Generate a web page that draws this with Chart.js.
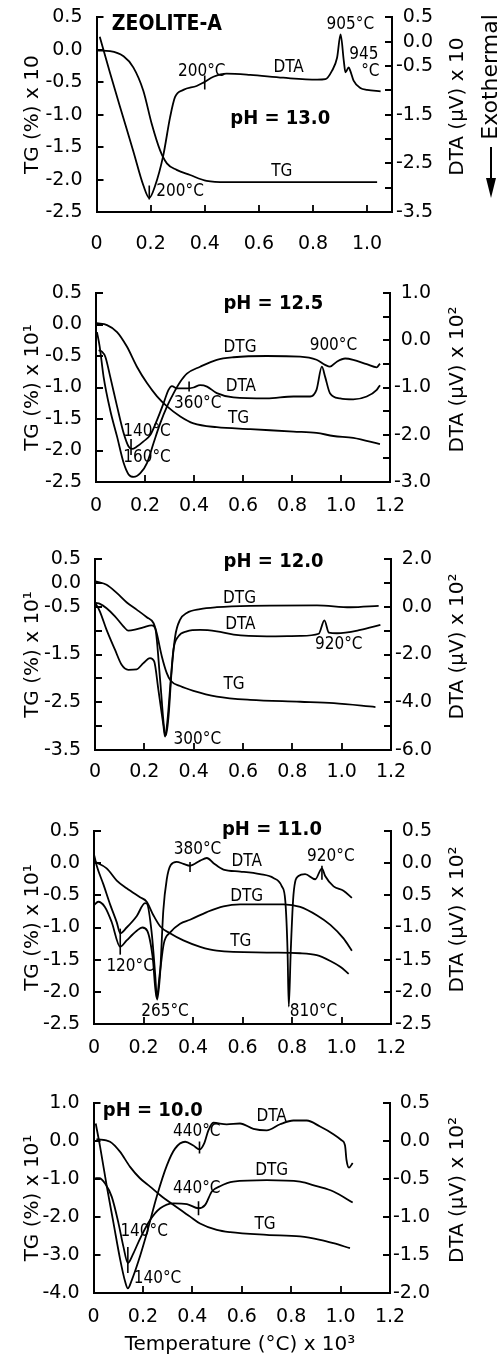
<!DOCTYPE html>
<html><head><meta charset="utf-8">
<script src="https://cdn.jsdelivr.net/npm/chart.js@4.4.1/dist/chart.umd.min.js"></script>
<style>
html,body{margin:0;padding:0;background:#fff;}
#wrap{position:relative;width:502px;height:1358px;overflow:hidden;}
canvas{position:absolute;left:0;top:0;}
</style>
</head><body>
<div id="wrap">
<canvas id="c1" width="502" height="1358" style="width:502px;height:1358px"></canvas>
<canvas id="c2" width="502" height="1358" style="width:502px;height:1358px"></canvas>
<canvas id="c3" width="502" height="1358" style="width:502px;height:1358px"></canvas>
<canvas id="c4" width="502" height="1358" style="width:502px;height:1358px"></canvas>
<canvas id="c5" width="502" height="1358" style="width:502px;height:1358px"></canvas>
</div>
<script>
// ---------- tick values / labels ----------
const xTicks12 = [0,0.2,0.4,0.6,0.8,1.0,1.2];
const xLabels12 = ['0','0.2','0.4','0.6','0.8','1.0','1.2'];
const xTicks10 = [0,0.2,0.4,0.6,0.8,1.0];
const xLabels10 = ['0','0.2','0.4','0.6','0.8','1.0'];

const p1LeftTicks = [0.5,0,-0.5,-1,-1.5,-2,-2.5];
const p1LeftLabels = ['0.5','0.0','-0.5','-1.0','-1.5','-2.0','-2.5'];
const p1RightTicks = [0.5,0,-0.5,-1,-1.5,-2,-2.5,-3,-3.5];
const p1RightLabels = ['0.5','0.0','-0.5','','-1.5','','-2.5','','-3.5'];

const p2LeftTicks = [0.5,0,-0.5,-1,-1.5,-2,-2.5];
const p2LeftLabels = ['0.5','0.0','-0.5','-1.0','-1.5','-2.0','-2.5'];
const p2RightTicks = [1,0.5,0,-0.5,-1,-1.5,-2,-2.5,-3];
const p2RightLabels = ['1.0','','0.0','','-1.0','','-2.0','','-3.0'];

const p3LeftTicks = [0.5,0,-0.5,-1,-1.5,-2,-2.5,-3,-3.5];
const p3LeftLabels = ['0.5','0.0','-0.5','','-1.5','','-2.5','','-3.5'];
const p3RightTicks = [2,1,0,-1,-2,-3,-4,-5,-6];
const p3RightLabels = ['2.0','','0.0','','-2.0','','-4.0','','-6.0'];

const p4LeftTicks = [0.5,0,-0.5,-1,-1.5,-2,-2.5];
const p4LeftLabels = ['0.5','0.0','-0.5','-1.0','-1.5','-2.0','-2.5'];
const p4RightTicks = [0.5,0,-0.5,-1,-1.5,-2,-2.5];
const p4RightLabels = ['0.5','0.0','0.5','-1.0','-1.5','-2.0','-2.5'];

const p5LeftTicks = [1,0,-1,-2,-3,-4];
const p5LeftLabels = ['1.0','0.0','-1.0','-2.0','-3.0','-4.0'];
const p5RightTicks = [0.5,0,-0.5,-1,-1.5,-2];
const p5RightLabels = ['0.5','0.0','-0.5','-1.0','-1.5','-2.0'];

// ---------- curves: [temperature x10^3, value] ----------
// pH 13.0
const p1TG = [[0.006,-0.01],[0.05,-0.02],[0.10,-0.10],[0.136,-0.27],[0.173,-0.63],[0.204,-1.14],[0.235,-1.55],[0.26,-1.75],[0.296,-1.85],[0.346,-1.93],[0.407,-2.02],[0.48,-2.04],[1.037,-2.04]];
const p1DTA = [[0.012,0.10],[0.049,-0.62],[0.086,-1.32],[0.136,-2.25],[0.173,-2.95],[0.195,-3.21],[0.216,-2.97],[0.247,-2.33],[0.272,-1.55],[0.29,-1.14],[0.321,-0.99],[0.37,-0.91],[0.395,-0.84],[0.432,-0.72],[0.481,-0.655],[0.568,-0.68],[0.69,-0.74],[0.815,-0.78],[0.846,-0.77],[0.87,-0.60],[0.889,-0.33],[0.902,0.15],[0.914,-0.40],[0.92,-0.63],[0.932,-0.53],[0.938,-0.60],[0.95,-0.80],[0.975,-0.95],[1.0,-0.99],[1.05,-1.02]];
const p1MarksR = [[0.4,-0.84],[0.195,-3.1]];

// pH 12.5
const p2TG = [[0.004,0.02],[0.045,-0.01],[0.086,-0.12],[0.126,-0.35],[0.167,-0.67],[0.208,-0.93],[0.249,-1.14],[0.29,-1.30],[0.344,-1.46],[0.398,-1.57],[0.493,-1.63],[0.63,-1.66],[0.806,-1.70],[0.90,-1.72],[0.969,-1.77],[1.05,-1.80],[1.159,-1.90]];
const p2DTG = [[0.004,-0.12],[0.015,-0.35],[0.031,-0.83],[0.058,-1.36],[0.086,-1.78],[0.113,-2.20],[0.133,-2.38],[0.154,-2.42],[0.181,-2.36],[0.208,-2.20],[0.235,-1.88],[0.262,-1.57],[0.29,-1.30],[0.317,-1.09],[0.344,-0.91],[0.371,-0.78],[0.425,-0.67],[0.493,-0.56],[0.561,-0.52],[0.697,-0.50],[0.833,-0.51],[0.90,-0.56],[0.935,-0.64],[0.955,-0.67],[0.983,-0.59],[1.017,-0.54],[1.05,-0.56],[1.105,-0.63],[1.146,-0.68],[1.159,-0.62]];
const p2DTA = [[0.011,-0.21],[0.024,-0.24],[0.038,-0.35],[0.058,-0.77],[0.086,-1.40],[0.113,-1.97],[0.133,-2.25],[0.147,-2.30],[0.167,-2.25],[0.194,-2.14],[0.222,-2.00],[0.249,-1.69],[0.276,-1.33],[0.296,-1.05],[0.31,-0.97],[0.33,-1.02],[0.371,-1.02],[0.398,-1.00],[0.425,-0.95],[0.453,-0.98],[0.493,-1.12],[0.561,-1.21],[0.697,-1.23],[0.806,-1.19],[0.874,-1.19],[0.90,-1.05],[0.922,-0.56],[0.935,-0.77],[0.955,-1.12],[0.996,-1.23],[1.05,-1.25],[1.105,-1.19],[1.146,-1.05],[1.159,-0.95]];
const p2MarksR = [[0.143,-2.26],[0.38,-0.98]];

// pH 12.0
const p3TG = [[0.004,0.03],[0.047,-0.04],[0.088,-0.21],[0.129,-0.41],[0.169,-0.56],[0.21,-0.72],[0.237,-0.84],[0.25,-1.05],[0.271,-1.54],[0.291,-1.89],[0.307,-2.05],[0.345,-2.16],[0.399,-2.26],[0.494,-2.38],[0.629,-2.45],[0.832,-2.49],[0.968,-2.52],[1.137,-2.60]];
const p3DTG = [[0.003,-0.42],[0.02,-0.44],[0.047,-0.53],[0.081,-0.70],[0.115,-0.91],[0.135,-1.0],[0.162,-0.98],[0.196,-0.93],[0.23,-0.89],[0.244,-0.95],[0.264,-2.03],[0.281,-3.08],[0.288,-3.19],[0.298,-2.80],[0.311,-1.82],[0.325,-1.12],[0.345,-0.77],[0.372,-0.63],[0.426,-0.55],[0.494,-0.51],[0.629,-0.48],[0.90,-0.47],[1.035,-0.51],[1.15,-0.48]];
const p3DTA = [[0.003,0.13],[0.02,-0.20],[0.047,-0.97],[0.081,-1.80],[0.108,-2.43],[0.135,-2.64],[0.169,-2.62],[0.196,-2.36],[0.223,-2.15],[0.24,-2.29],[0.257,-3.48],[0.277,-4.95],[0.284,-5.44],[0.294,-4.74],[0.305,-3.34],[0.318,-1.80],[0.338,-1.24],[0.372,-1.03],[0.426,-0.97],[0.494,-1.03],[0.562,-1.17],[0.697,-1.24],[0.832,-1.22],[0.907,-1.13],[0.93,-0.57],[0.948,-1.08],[0.981,-1.11],[1.076,-0.97],[1.157,-0.76]];

// pH 11.0
const p4TG = [[0.004,0.02],[0.051,-0.08],[0.092,-0.27],[0.132,-0.39],[0.186,-0.53],[0.213,-0.60],[0.24,-0.81],[0.267,-0.98],[0.307,-1.09],[0.361,-1.20],[0.429,-1.30],[0.496,-1.36],[0.698,-1.39],[0.833,-1.40],[0.90,-1.43],[0.955,-1.52],[0.995,-1.61],[1.029,-1.72]];
const p4DTG = [[0.001,-0.65],[0.017,-0.60],[0.044,-0.68],[0.071,-0.91],[0.106,-1.30],[0.132,-1.20],[0.173,-1.05],[0.195,-1.0],[0.215,-1.05],[0.237,-1.46],[0.253,-2.10],[0.266,-1.71],[0.282,-1.25],[0.307,-1.08],[0.348,-0.94],[0.388,-0.88],[0.456,-0.76],[0.523,-0.67],[0.591,-0.64],[0.766,-0.64],[0.833,-0.68],[0.90,-0.81],[0.955,-0.96],[1.008,-1.17],[1.042,-1.36]];
const p4DTA = [[0.001,0.12],[0.011,-0.04],[0.038,-0.33],[0.065,-0.64],[0.092,-0.92],[0.106,-1.09],[0.132,-1.0],[0.173,-0.82],[0.206,-0.62],[0.214,-0.63],[0.233,-1.08],[0.247,-1.72],[0.255,-2.12],[0.267,-1.72],[0.28,-0.74],[0.294,-0.25],[0.31,-0.03],[0.334,0.02],[0.361,-0.01],[0.388,-0.04],[0.429,0.04],[0.456,0.08],[0.483,0.0],[0.523,-0.10],[0.591,-0.13],[0.671,-0.17],[0.725,-0.23],[0.759,-0.36],[0.773,-0.59],[0.782,-1.36],[0.787,-2.23],[0.795,-1.36],[0.806,-0.49],[0.826,-0.20],[0.853,-0.17],[0.894,-0.25],[0.921,-0.08],[0.934,-0.20],[0.968,-0.36],[1.008,-0.43],[1.042,-0.54]];
const p4MarksL = [[0.106,-1.22]];
const p4MarksR = [[0.388,-0.06],[0.921,-0.15]];

// pH 10.0
const p5TG = [[0.012,0.05],[0.067,-0.02],[0.107,-0.28],[0.148,-0.68],[0.188,-0.98],[0.229,-1.20],[0.269,-1.42],[0.323,-1.68],[0.391,-1.99],[0.431,-2.17],[0.499,-2.34],[0.553,-2.40],[0.701,-2.47],[0.836,-2.51],[0.917,-2.60],[0.971,-2.69],[1.038,-2.82]];
const p5DTG = [[0.007,-0.98],[0.024,-0.98],[0.047,-1.12],[0.074,-1.47],[0.101,-2.16],[0.121,-2.78],[0.139,-3.21],[0.159,-2.99],[0.189,-2.56],[0.229,-2.08],[0.27,-1.77],[0.324,-1.64],[0.378,-1.66],[0.425,-1.77],[0.452,-1.68],[0.479,-1.33],[0.512,-1.19],[0.566,-1.07],[0.701,-1.03],[0.836,-1.07],[0.903,-1.19],[0.971,-1.33],[1.049,-1.62]];
const p5DTA = [[0.009,0.23],[0.027,-0.08],[0.054,-0.60],[0.081,-1.08],[0.108,-1.56],[0.128,-1.85],[0.139,-1.94],[0.155,-1.83],[0.182,-1.58],[0.216,-1.21],[0.256,-0.73],[0.297,-0.32],[0.33,-0.10],[0.371,-0.01],[0.404,-0.06],[0.429,-0.11],[0.448,-0.03],[0.465,0.14],[0.485,0.24],[0.539,0.22],[0.593,0.23],[0.647,0.16],[0.701,0.14],[0.755,0.22],[0.809,0.27],[0.863,0.27],[0.917,0.19],[0.971,0.09],[1.004,0.01],[1.018,-0.06],[1.024,-0.25],[1.034,-0.35],[1.049,-0.29]];
const p5MarksL = [[0.139,-3.13],[0.425,-1.77]];
const p5MarksR = [[0.429,-0.086]];

// ---------- annotation texts: [text, x, left-axis y, size, bold] ----------
const p1Notes = [['ZEOLITE-A',0.26,0.39,21,1],['905°C',0.938,0.39,17,0],['945',0.988,-0.07,17,0],['°C',1.012,-0.33,17,0],['200°C',0.389,-0.33,17,0],['DTA',0.71,-0.27,17,0],['pH = 13.0',0.679,-1.06,20,1],['TG',0.685,-1.88,17,0],['200°C',0.309,-2.18,17,0]];
const p2Notes = [['pH = 12.5',0.724,0.33,20,1],['DTG',0.588,-0.36,17,0],['900°C',0.969,-0.34,17,0],['DTA',0.591,-0.99,17,0],['360°C',0.415,-1.26,17,0],['TG',0.582,-1.49,17,0],['140°C',0.208,-1.70,17,0],['160°C',0.208,-2.12,17,0]];
const p3Notes = [['pH = 12.0',0.724,0.45,20,1],['DTG',0.586,-0.32,17,0],['DTA',0.589,-0.88,17,0],['920°C',0.988,-1.30,17,0],['TG',0.564,-2.14,17,0],['300°C',0.415,-3.29,17,0]];
const p4Notes = [['pH = 11.0',0.719,0.52,20,1],['380°C',0.418,0.21,17,0],['DTA',0.617,0.02,17,0],['920°C',0.957,0.11,17,0],['DTG',0.617,-0.52,17,0],['TG',0.593,-1.22,17,0],['120°C',0.146,-1.60,17,0],['265°C',0.287,-2.31,17,0],['810°C',0.887,-2.31,17,0]];
const p5Notes = [['pH = 10.0',0.24,0.79,20,1],['DTA',0.721,0.65,17,0],['440°C',0.418,0.24,17,0],['DTG',0.721,-0.77,17,0],['440°C',0.418,-1.25,17,0],['TG',0.694,-2.21,17,0],['140°C',0.205,-2.38,17,0],['140°C',0.259,-3.62,17,0]];

// ---------- drawing ----------
const W = 502, H = 1358;
const FONT = '"DejaVu Sans", "Liberation Sans", sans-serif';
Chart.defaults.font.family = FONT;
Chart.defaults.font.size = 19;
Chart.defaults.color = '#000';

const panels = [
  {id:'c1', top:16, bottom:212, left:96.5, right:392, labR:433, xMax:1.092, xPad:13, xT:xTicks10, xL:xLabels10,
   yL:{min:-2.5,max:0.5,t:p1LeftTicks,l:p1LeftLabels}, yR:{min:-3.5,max:0.5,t:p1RightTicks,l:p1RightLabels},
   curves:[[p1TG,'yL'],[p1DTA,'yR']], marksL:[], marksR:p1MarksR, rL:[], rR:[7,7],
   notes:p1Notes, lt:'TG (%) x 10', rt:'DTA (μV) x 10', exo:true},
  {id:'c2', top:293, bottom:482, left:96, right:390, labR:431, xMax:1.2, xPad:5, xT:xTicks12, xL:xLabels12,
   yL:{min:-2.5,max:0.5,t:p2LeftTicks,l:p2LeftLabels}, yR:{min:-3,max:1,t:p2RightTicks,l:p2RightLabels},
   curves:[[p2TG,'yL'],[p2DTG,'yL'],[p2DTA,'yR']], marksL:[], marksR:p2MarksR, rL:[], rR:[8,5],
   notes:p2Notes, lt:'TG (%) x 10¹', rt:'DTA (μV) x 10²'},
  {id:'c3', top:559, bottom:750, left:95, right:391, labR:432, xMax:1.2, xPad:3, xT:xTicks12, xL:xLabels12,
   yL:{min:-3.5,max:0.5,t:p3LeftTicks,l:p3LeftLabels}, yR:{min:-6,max:2,t:p3RightTicks,l:p3RightLabels},
   curves:[[p3TG,'yL'],[p3DTG,'yL'],[p3DTA,'yR']], marksL:[], marksR:[], rL:[], rR:[],
   notes:p3Notes, lt:'TG (%) x 10¹', rt:'DTA (μV) x 10²'},
  {id:'c4', top:831, bottom:1024, left:94, right:391, labR:432, xMax:1.2, xPad:5, xT:xTicks12, xL:xLabels12,
   yL:{min:-2.5,max:0.5,t:p4LeftTicks,l:p4LeftLabels}, yR:{min:-2.5,max:0.5,t:p4RightTicks,l:p4RightLabels},
   curves:[[p4TG,'yL'],[p4DTG,'yL'],[p4DTA,'yR']], marksL:p4MarksL, marksR:p4MarksR, rL:[13], rR:[5,7],
   notes:p4Notes, lt:'TG (%) x 10¹', rt:'DTA (μV) x 10²'},
  {id:'c5', top:1103, bottom:1293, left:93.5, right:390, labR:430, xMax:1.2, xPad:5, xT:xTicks12, xL:xLabels12,
   yL:{min:-4,max:1,t:p5LeftTicks,l:p5LeftLabels}, yR:{min:-2,max:0.5,t:p5RightTicks,l:p5RightLabels},
   curves:[[p5TG,'yL'],[p5DTG,'yL'],[p5DTA,'yR']], marksL:p5MarksL, marksR:p5MarksR, rL:[13,7], rR:[6],
   notes:p5Notes, lt:'TG (%) x 10¹', rt:'DTA (μV) x 10²', xt:'Temperature (°C) x 10³'}
];

function rotText(ctx, txt, x, y, size){
  ctx.save();
  ctx.translate(x, y);
  ctx.rotate(-Math.PI/2);
  ctx.font = size + 'px ' + FONT;
  ctx.textAlign = 'center';
  ctx.textBaseline = 'middle';
  ctx.fillText(txt, 0, 0);
  ctx.restore();
}

function build(p){
  const datasets = p.curves.map(([d, ax]) => ({
    type:'line', data:d.map(([x,y])=>({x,y})), yAxisID:ax,
    borderColor:'#000', borderWidth:1.8, pointRadius:0, fill:false,
    cubicInterpolationMode:'monotone'
  }));
  [[p.marksL,'yL',p.rL],[p.marksR,'yR',p.rR]].forEach(([m,ax,r]) => {
    if (!m.length) return;
    datasets.push({type:'line', showLine:false, data:m.map(([x,y])=>({x,y})), yAxisID:ax,
      pointStyle:'line', pointRotation:90, pointRadius:r, pointBorderColor:'#000',
      pointBorderWidth:1.6, borderColor:'#000'});
  });
  const tickPlugin = {
    id:'inward',
    afterDraw(chart){
      const ctx = chart.ctx, a = chart.chartArea;
      const sx = chart.scales.x, sl = chart.scales.yL, sr = chart.scales.yR;
      ctx.save();
      ctx.strokeStyle = '#000'; ctx.lineWidth = 1.8;
      ctx.beginPath();
      p.yL.t.forEach(v => { const y = Math.round(sl.getPixelForValue(v)); ctx.moveTo(a.left, y); ctx.lineTo(a.left + 7, y); });
      p.yR.t.forEach(v => { const y = Math.round(sr.getPixelForValue(v)); ctx.moveTo(a.right, y); ctx.lineTo(a.right - 7, y); });
      p.xT.forEach(v => { if (v === 0) return; const x = Math.round(sx.getPixelForValue(v)); ctx.moveTo(x, a.bottom); ctx.lineTo(x, a.bottom - 7); });
      ctx.stroke();
      ctx.fillStyle = '#000';
      ctx.textAlign = 'center'; ctx.textBaseline = 'middle';
      p.notes.forEach(([t,x,y,s,b]) => {
        ctx.font = (b ? 'bold ' : '') + s + 'px ' + FONT;
        try { ctx.fontStretch = 'semi-condensed'; } catch(e) {}
        ctx.fillText(t, sx.getPixelForValue(x), sl.getPixelForValue(y));
      });
      try { ctx.fontStretch = 'normal'; } catch(e) {}
      const cy = (a.top + a.bottom) / 2;
      rotText(ctx, p.lt, 33, cy, 20);
      rotText(ctx, p.rt, 458, cy - 8, 20);
      if (p.exo) {
        rotText(ctx, 'Exothermal', 491, 77, 22);
        ctx.beginPath(); ctx.moveTo(491, 147); ctx.lineTo(491, 184); ctx.lineWidth = 2; ctx.stroke();
        ctx.beginPath(); ctx.moveTo(486, 178); ctx.lineTo(496, 178); ctx.lineTo(491, 198); ctx.closePath(); ctx.fill();
      }
      if (p.xt) {
        ctx.font = '20px ' + FONT; ctx.textAlign = 'center'; ctx.textBaseline = 'middle';
        ctx.fillText(p.xt, 240, 1345);
      }
      ctx.restore();
    }
  };
  const yAxis = (cfg, pos) => ({
    type:'linear', position:pos, min:cfg.min, max:cfg.max,
    afterFit(s){ s.width = pos === 'left' ? p.left : p.labR - p.right; },
    afterBuildTicks(s){ s.ticks = cfg.t.map(v => ({value:v})); },
    ticks:{ autoSkip:false, padding: pos === 'left' ? 6 : 5, crossAlign: pos === 'left' ? 'near' : 'far',
      callback:(v,i) => cfg.l[i] },
    grid:{ display:false },
    border:{ display:true, color:'#000', width:2 }
  });
  new Chart(document.getElementById(p.id), {
    type:'line',
    data:{ datasets },
    options:{
      responsive:false, animation:false, devicePixelRatio:1,
      layout:{ padding:{ top:p.top, left:0, right:W - p.labR, bottom:0 } },
      plugins:{ legend:{display:false}, tooltip:{enabled:false} },
      scales:{
        x:{ type:'linear', min:0, max:p.xMax,
          afterFit(s){ s.height = H - p.bottom; },
          afterBuildTicks(s){ s.ticks = p.xT.map(v => ({value:v})); },
          ticks:{ autoSkip:false, maxRotation:0, padding:p.xPad, callback:(v,i) => p.xL[i] },
          grid:{ display:false },
          border:{ display:true, color:'#000', width:2 } },
        yL: yAxis(p.yL, 'left'),
        yR: yAxis(p.yR, 'right')
      }
    },
    plugins:[tickPlugin]
  });
}
panels.forEach(build);
</script>
</body></html>
